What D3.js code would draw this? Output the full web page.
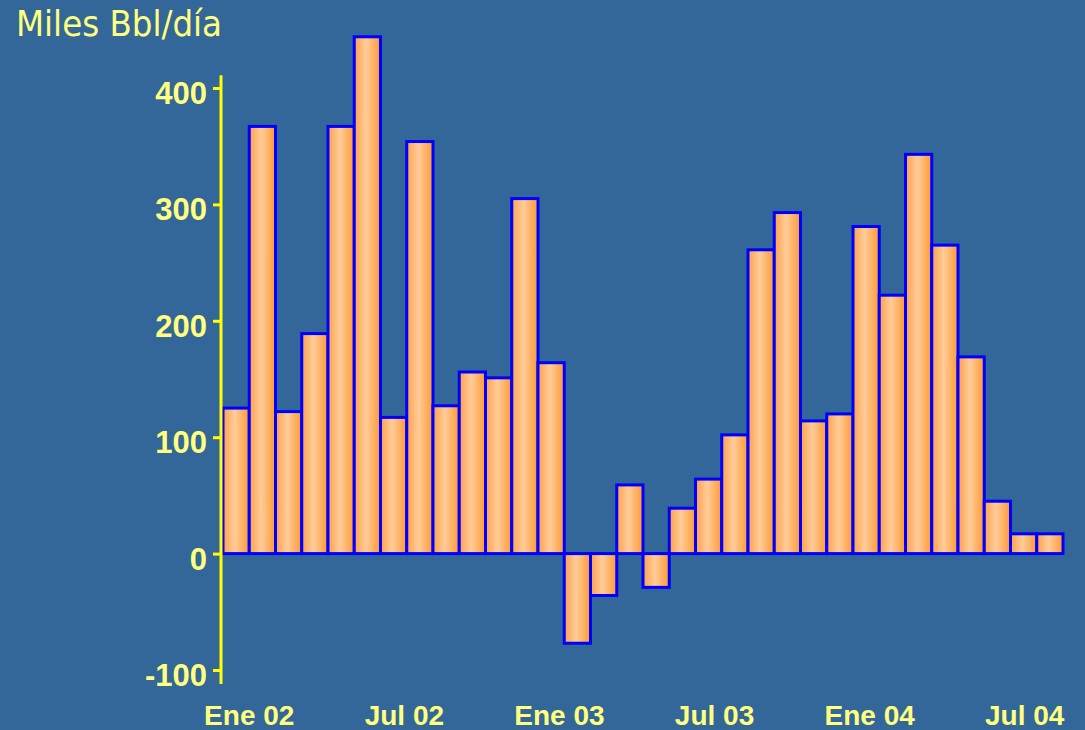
<!DOCTYPE html>
<html>
<head>
<meta charset="utf-8">
<script src="https://cdn.jsdelivr.net/npm/d3@7"></script>
<style>
  body { margin: 0; background: #336699; }
  svg { display: block; }
</style>
</head>
<body>
<svg id="chart" width="1085" height="730"></svg>
<script>
  // Months (Dic 01 .. Jul 04)
  const months = [
    "Dic 01", "Ene 02", "Feb 02", "Mar 02", "Abr 02", "May 02", "Jun 02", "Jul 02",
    "Ago 02", "Sep 02", "Oct 02", "Nov 02", "Dic 02", "Ene 03", "Feb 03", "Mar 03",
    "Abr 03", "May 03", "Jun 03", "Jul 03", "Ago 03", "Sep 03", "Oct 03", "Nov 03",
    "Dic 03", "Ene 04", "Feb 04", "Mar 04", "Abr 04", "May 04", "Jun 04", "Jul 04"
  ];
  // Miles Bbl/día
  const values = [
    125, 367, 122, 189, 367, 444, 117, 354,
    127, 156, 151, 305, 164, -77, -36, 59,
    -29, 39, 64, 102, 261, 293, 114, 120,
    281, 222, 343, 265, 169, 45, 17, 17
  ];
  const xTickLabels = ["Ene 02", "Jul 02", "Ene 03", "Jul 03", "Ene 04", "Jul 04"];
  const yTicks = [-100, 0, 100, 200, 300, 400];

  const data = months.map((m, i) => ({ month: m, value: values[i] }));

  const width = 1085;
  const height = 730;
  const marginLeft = 223;
  const marginRight = 22;
  const textColor = "#ffff80";

  const svg = d3.select("#chart");

  // gradient for bars
  const grad = svg.append("defs").append("linearGradient")
    .attr("id", "barGrad")
    .attr("x1", "0%").attr("x2", "100%")
    .attr("y1", "0%").attr("y2", "0%");
  grad.append("stop").attr("offset", "0%").attr("stop-color", "#ffa04a");
  grad.append("stop").attr("offset", "45%").attr("stop-color", "#ffcc99");
  grad.append("stop").attr("offset", "100%").attr("stop-color", "#ff9933");

  // Scales
  const x = d3.scaleBand()
    .domain(months)
    .range([marginLeft, width - marginRight])
    .paddingInner(0)
    .paddingOuter(0);

  const y = d3.scaleLinear()
    .domain([-100, 400])
    .range([670, 88]);

  // label positions drift slightly left of the band edges
  const xLabel = d3.scalePoint()
    .domain(xTickLabels)
    .range([x("Ene 02"), x("Jul 04") - 12]);

  // Bars
  svg.append("g")
    .selectAll("rect")
    .data(data)
    .enter()
    .append("rect")
    .attr("x", (d) => x(d.month))
    .attr("width", x.bandwidth())
    .attr("y", (d) => y(Math.max(0, d.value)))
    .attr("height", (d) => Math.abs(y(d.value) - y(0)))
    .attr("fill", "url(#barGrad)")
    .attr("stroke", "#0000ff")
    .attr("stroke-width", 3);

  // Y axis
  const yAxis = svg.append("g")
    .attr("transform", `translate(221,0)`)
    .call(d3.axisLeft(y).tickValues(yTicks).tickFormat((d) => String(d)).tickSize(8).tickPadding(6));
  yAxis.select(".domain").remove();
  yAxis.selectAll(".tick line")
    .attr("stroke", "#ffff00")
    .attr("stroke-width", 3);
  yAxis.selectAll(".tick text")
    .attr("fill", textColor)
    .attr("font-family", "Liberation Sans, Arial, sans-serif")
    .attr("font-weight", "bold")
    .attr("font-size", 31)
    .attr("dy", "0.5em");
  yAxis.append("line")
    .attr("x1", 0).attr("x2", 0)
    .attr("y1", y(411)).attr("y2", y(-112))
    .attr("stroke", "#ffff00")
    .attr("stroke-width", 3);

  // X labels
  svg.append("g")
    .selectAll("text")
    .data(xTickLabels)
    .enter()
    .append("text")
    .attr("x", (d) => xLabel(d))
    .attr("y", 725)
    .attr("text-anchor", "middle")
    .attr("fill", textColor)
    .attr("font-family", "Liberation Sans, Arial, sans-serif")
    .attr("font-weight", "bold")
    .attr("font-size", 28)
    .text((d) => d);

  // Unit title
  svg.append("text")
    .attr("x", 16)
    .attr("y", 36)
    .attr("fill", textColor)
    .attr("font-family", "DejaVu Sans, sans-serif")
    .attr("font-size", 35)
    .attr("textLength", 206)
    .attr("lengthAdjust", "spacingAndGlyphs")
    .text("Miles Bbl/día");
</script>
</body>
</html>
